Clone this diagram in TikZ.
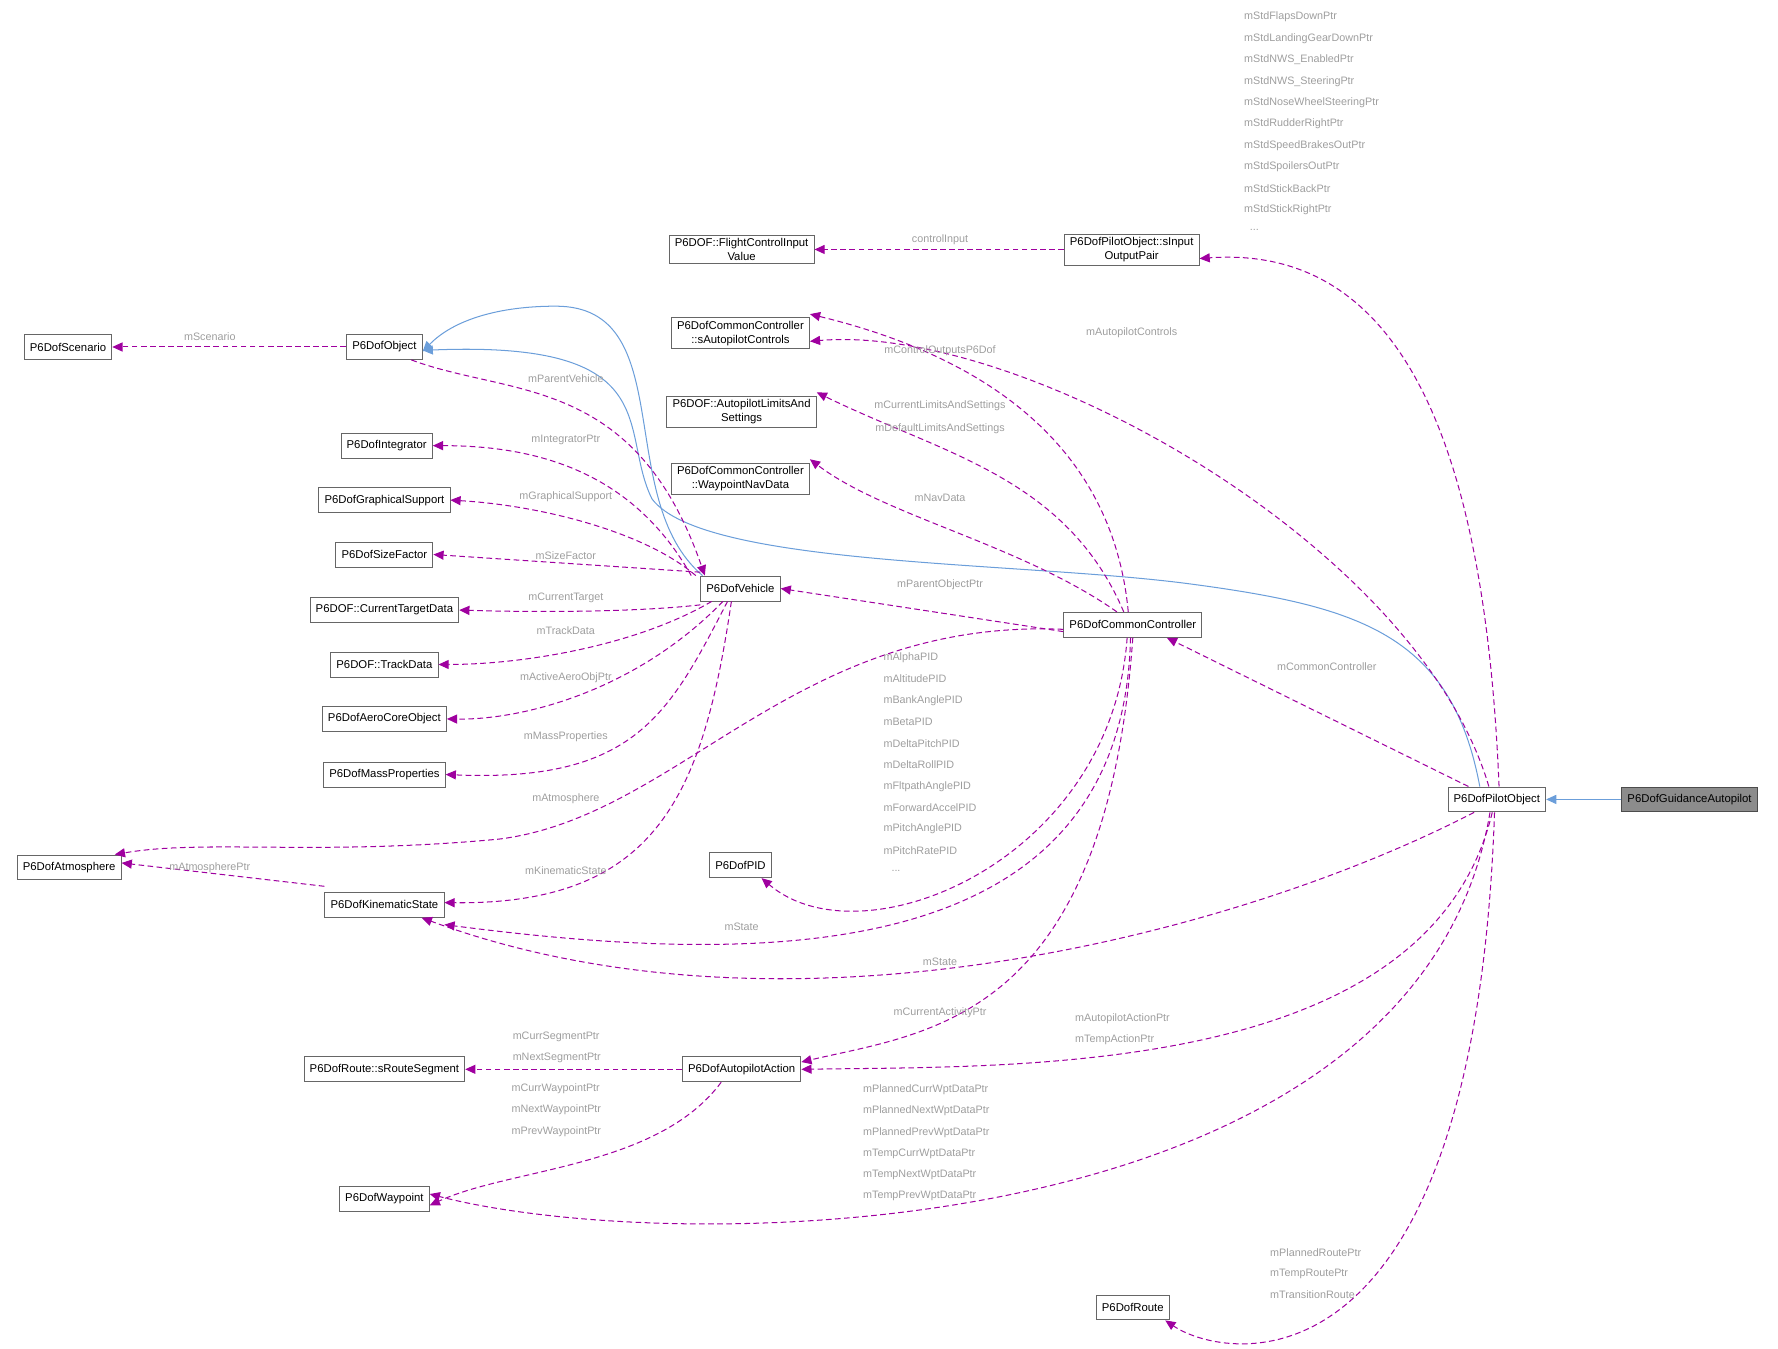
\documentclass[tikz,border=0pt]{standalone}
\usepackage{fontspec}
\setmainfont{Liberation Sans}
\usetikzlibrary{arrows.meta}
\begin{document}
\begin{tikzpicture}[x=1pt,y=-1pt,
  every node/.style={font=\fontsize{10}{12}\selectfont},
  box/.style={draw=black!60,fill=white,line width=0.8pt,inner xsep=5pt,inner ysep=3pt,minimum height=22pt,align=center},
  box2/.style={box,font=\fontsize{10}{12}\selectfont},
  lab/.style={text=black!38,font=\fontsize{9.5}{11}\selectfont,inner sep=0pt},
  use/.style={draw=violet!75!magenta,dash pattern=on 5pt off 3pt,line width=0.9pt,-{Triangle[width=8pt,length=9pt]}},
  inh/.style={draw=cyan!55!blue!60,line width=0.9pt,-{Triangle[width=8pt,length=9pt]}}]
\useasboundingbox (0,0) rectangle (1568,1189);
% nodes
\node[box] (scn) at (60,306) {P6DofScenario};
\node[box] (obj) at (339,306) {P6DofObject};
\node[box] (fci) at (654,220) {P6DOF::FlightControlInput\\Value};
\node[box] (iop) at (998,220) {P6DofPilotObject::sInput\\OutputPair};
\node[box] (sac) at (653,294) {P6DofCommonController\\::sAutopilotControls};
\node[box] (als) at (654,363) {P6DOF::AutopilotLimitsAnd\\Settings};
\node[box] (wnd) at (653,422) {P6DofCommonController\\::WaypointNavData};
\node[box] (int) at (341,393) {P6DofIntegrator};
\node[box] (gra) at (339,441) {P6DofGraphicalSupport};
\node[box] (siz) at (339,489) {P6DofSizeFactor};
\node[box] (ctd) at (339,538) {P6DOF::CurrentTargetData};
\node[box] (trk) at (339,586) {P6DOF::TrackData};
\node[box] (aer) at (339,634) {P6DofAeroCoreObject};
\node[box] (mas) at (339,683) {P6DofMassProperties};
\node[box] (atm) at (61,765) {P6DofAtmosphere};
\node[box] (kin) at (339,798) {P6DofKinematicState};
\node[box] (pid) at (653,763) {P6DofPID};
\node[box] (veh) at (653,519) {P6DofVehicle};
\node[box] (cc) at (999,551) {P6DofCommonController};
\node[box] (po) at (1320,705) {P6DofPilotObject};
\node[box,fill=black!45,draw=black!70] (ga) at (1490,705) {P6DofGuidanceAutopilot};
\node[box] (rs) at (339,943) {P6DofRoute::sRouteSegment};
\node[box] (aa) at (654,943) {P6DofAutopilotAction};
\node[box] (wp) at (339,1057) {P6DofWaypoint};
\node[box] (rt) at (999,1153) {P6DofRoute};
% inheritance
\draw[inh] (ga.west) -- (po.east);
\draw[inh] ([xshift=2pt]veh.north west) .. controls (540,440) and (600,270) .. (490,270) .. controls (440,270) and (400,282) .. ([yshift=-4pt]obj.east);
\draw[inh] ([xshift=-15pt]po.north) .. controls (1280,560) and (1200,535) .. (1050,515) .. controls (900,495) and (620,500) .. (575,440) .. controls (545,380) and (590,300) .. ([yshift=-3pt]obj.east);
% usage
\draw[use] (obj.west) -- (scn.east);
\draw[use] (iop.west) -- (fci.east);
\draw[use] ([xshift=2pt]po.north) .. controls (1310,400) and (1240,215) .. ([yshift=-8pt]iop.east);
\draw[use] ([xshift=-7pt]po.north) .. controls (1250,480) and (900,285) .. ([yshift=-7pt]sac.east);
\draw[use] ([xshift=-4pt]cc.north) .. controls (980,380) and (850,310) .. ([yshift=17pt]sac.east);
\draw[use] ([xshift=-8pt]cc.north) .. controls (940,420) and (830,400) .. ([yshift=17pt]als.east);
\draw[use] ([xshift=-14pt]cc.north) .. controls (900,480) and (780,455) .. ([yshift=17pt]wnd.east);
\draw[use] ([yshift=-6pt]cc.west) -- (veh.east);
\draw[use] ([xshift=-25pt]po.north) -- ([xshift=30pt]cc.south);
\draw[use] ([xshift=-10pt]obj.south east) .. controls (450,350) and (560,330) .. ([xshift=4pt]veh.north west);
\draw[use] ([xshift=-8pt]veh.north west) .. controls (560,420) and (480,393) .. (int.east);
\draw[use] ([xshift=-4pt]veh.north west) .. controls (570,470) and (480,446) .. (gra.east);
\draw[use] ([yshift=3pt]veh.north west) -- (siz.east);
\draw[use] ([yshift=-3pt]veh.south west) .. controls (560,540) and (470,540) .. (ctd.east);
\draw[use] ([xshift=10pt]veh.south west) .. controls (560,570) and (460,586) .. (trk.east);
\draw[use] ([xshift=20pt]veh.south west) .. controls (560,610) and (460,635) .. (aer.east);
\draw[use] ([xshift=24pt]veh.south west) .. controls (590,630) and (560,690) .. (mas.east);
\draw[use] ([yshift=-4pt]cc.west) .. controls (700,545) and (600,720) .. (440,740) .. controls (280,755) and (180,740) .. ([xshift=-6pt]atm.north east);
\draw[use] ([xshift=-8pt]veh.south) .. controls (620,700) and (580,798) .. ([yshift=2pt]kin.east);
\draw[use] ([yshift=5pt]kin.north west) -- ([yshift=4pt]atm.east);
\draw[use] ([xshift=-5pt]cc.south) .. controls (980,760) and (760,850) .. ([xshift=-9pt]pid.south east);
\draw[use] ([xshift=-2pt]cc.south) .. controls (990,860) and (660,850) .. ([yshift=-6pt]kin.south east);
\draw[use] ([xshift=-20pt]po.south) .. controls (1100,820) and (700,930) .. ([xshift=-20pt]kin.south east);
\draw[use] (cc.south) .. controls (975,900) and (820,910) .. ([yshift=-5pt]aa.north east);
\draw[use] ([xshift=-4pt]po.south) .. controls (1260,950) and (900,940) .. (aa.east);
\draw[use] (aa.west) -- (rs.east);
\draw[use] ([xshift=-18pt]aa.south) .. controls (580,1030) and (450,1030) .. ([yshift=-6pt]wp.east);
\draw[use] ([xshift=-6pt]po.south) .. controls (1250,1100) and (600,1110) .. ([yshift=4pt]wp.east);
\draw[use] ([xshift=-2pt]po.south) .. controls (1300,1240) and (1080,1200) .. ([xshift=-4pt]rt.south east);
% labels
\node[lab] at (185,297) {mScenario};
\node[lab] at (829,211) {controlInput};
\foreach \t [count=\i] in {mStdFlapsDownPtr,mStdLandingGearDownPtr,mStdNWS\_EnabledPtr,mStdNWS\_SteeringPtr,mStdNoseWheelSteeringPtr,mStdRudderRightPtr,mStdSpeedBrakesOutPtr,mStdSpoilersOutPtr,mStdStickBackPtr,mStdStickRightPtr}
  \node[lab,anchor=west] at (1097,{15+18.9*(\i-1)}) {\t};
\node[lab,anchor=west] at (1102,203) {...};
\node[lab] at (998,293) {mAutopilotControls};
\node[lab] at (829,309) {mControlOutputsP6Dof};
\node[lab] at (499,334) {mParentVehicle};
\node[lab] at (829,358) {mCurrentLimitsAndSettings};
\node[lab] at (829,378) {mDefaultLimitsAndSettings};
\node[lab] at (499,388) {mIntegratorPtr};
\node[lab] at (829,439) {mNavData};
\node[lab] at (499,438) {mGraphicalSupport};
\node[lab] at (499,490) {mSizeFactor};
\node[lab] at (829,516) {mParentObjectPtr};
\node[lab] at (499,527) {mCurrentTarget};
\node[lab] at (499,556) {mTrackData};
\node[lab] at (1170,588) {mCommonController};
\foreach \t [count=\i] in {mAlphaPID,mAltitudePID,mBankAnglePID,mBetaPID,mDeltaPitchPID,mDeltaRollPID,mFltpathAnglePID,mForwardAccelPID,mPitchAnglePID,mPitchRatePID}
  \node[lab,anchor=west] at (779,{580+18.9*(\i-1)}) {\t};
\node[lab,anchor=west] at (786,768) {...};
\node[lab] at (499,598) {mActiveAeroObjPtr};
\node[lab] at (499,650) {mMassProperties};
\node[lab] at (499,704) {mAtmosphere};
\node[lab] at (185,765) {mAtmospherePtr};
\node[lab] at (499,768) {mKinematicState};
\node[lab] at (654,817) {mState};
\node[lab] at (829,848) {mState};
\node[lab] at (829,893) {mCurrentActivityPtr};
\node[lab,anchor=west] at (948,898) {mAutopilotActionPtr};
\node[lab,anchor=west] at (948,917) {mTempActionPtr};
\foreach \t [count=\i] in {mCurrSegmentPtr,mNextSegmentPtr}
  \node[lab,anchor=west] at (452,{914+19*(\i-1)}) {\t};
\foreach \t [count=\i] in {mCurrWaypointPtr,mNextWaypointPtr,mPrevWaypointPtr}
  \node[lab,anchor=west] at (451,{960+19*(\i-1)}) {\t};
\foreach \t [count=\i] in {mPlannedCurrWptDataPtr,mPlannedNextWptDataPtr,mPlannedPrevWptDataPtr,mTempCurrWptDataPtr,mTempNextWptDataPtr,mTempPrevWptDataPtr}
  \node[lab,anchor=west] at (761,{961+18.8*(\i-1)}) {\t};
\foreach \t [count=\i] in {mPlannedRoutePtr,mTempRoutePtr,mTransitionRoute}
  \node[lab,anchor=west] at (1120,{1105+18.5*(\i-1)}) {\t};
\end{tikzpicture}
\end{document}
